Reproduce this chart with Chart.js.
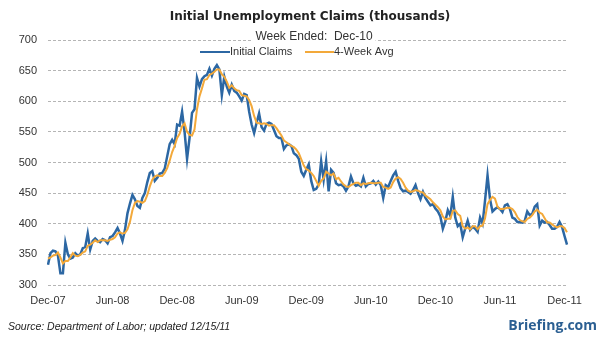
<!DOCTYPE html>
<html>
<head>
<meta charset="utf-8">
<script src="https://cdn.jsdelivr.net/npm/chart.js@4"></script>
<style>
  html, body { margin: 0; padding: 0; background: #fff; }
  #wrap { width: 600px; height: 353px; position: relative; }
</style>
</head>
<body>
<div id="wrap"><canvas id="chart"></canvas></div>
<script>
// weekly initial claims, week ended Dec 8 2007 .. Dec 10 2011 (thousands)
const initialClaims = [
  333, 352, 356, 355, 348, 319, 319, 369, 350, 343,
  345, 352, 348, 350, 360, 362, 384, 358, 372, 376,
  372, 370, 375, 373, 368, 378, 380, 386, 393, 384,
  372, 390, 417, 433, 447, 440, 429, 426, 442, 450,
  468, 483, 486, 470, 475, 482, 483, 490, 510, 530,
  537, 530, 562, 560, 583, 550, 506, 540, 581, 587,
  638, 624, 636, 641, 643, 653, 642, 653, 659, 652,
  610, 640, 624, 614, 627, 617, 614, 608, 601, 612,
  610, 583, 562, 548, 565, 580, 558, 552, 563, 565,
  563, 553, 543, 540, 540, 522, 528, 530, 527, 515,
  512, 506, 485, 478, 488, 497, 470, 455, 457, 464,
  502, 472, 502, 453, 488, 483, 466, 463, 464, 461,
  454, 461, 477, 466, 462, 464, 461, 475, 461, 465,
  466, 470, 464, 469, 463, 442, 463, 460, 470, 479,
  485, 470, 458, 453, 454, 452, 449, 455, 463, 450,
  440, 452, 442, 436, 430, 432, 425, 420, 412, 392,
  404, 422, 413, 444, 410, 396, 400, 378, 392, 405,
  390, 395, 392, 387, 410, 400, 438, 479, 440, 420,
  424, 427, 424, 419, 430, 432, 424, 410, 408, 403,
  403, 402, 405, 420, 414, 416, 428, 432, 397, 405,
  402, 403, 398, 392, 392, 395, 403, 395, 380, 366
]

const fourWeekAvg = [
  343, 345, 348, 349, 353, 345, 335, 339, 339, 345,
  352, 348, 347, 349, 353, 355, 364, 366, 369, 373,
  370, 373, 373, 373, 372, 374, 375, 378, 384, 386,
  384, 385, 391, 403, 422, 434, 437, 436, 434, 437,
  447, 461, 472, 477, 479, 478, 478, 483, 491, 503,
  517, 527, 540, 547, 559, 564, 550, 545, 544, 554,
  587, 608, 621, 635, 636, 643, 645, 648, 652, 652,
  644, 640, 632, 622, 626, 621, 618, 617, 610, 609,
  608, 602, 592, 576, 565, 564, 563, 564, 563, 560,
  561, 561, 556, 550, 544, 536, 533, 530, 527, 525,
  521, 515, 505, 495, 489, 487, 483, 478, 470, 462,
  470, 474, 485, 482, 479, 482, 473, 475, 469, 464,
  461, 460, 463, 465, 467, 467, 463, 466, 465, 466,
  467, 466, 466, 467, 467, 460, 459, 457, 459, 468,
  474, 476, 473, 467, 459, 454, 452, 453, 455, 454,
  452, 451, 446, 443, 440, 435, 431, 427, 422, 412,
  407, 408, 408, 421, 422, 416, 413, 396, 392, 394,
  391, 396, 396, 391, 396, 397, 409, 432, 439, 444,
  441, 428, 424, 424, 425, 426, 426, 424, 419, 411,
  406, 404, 403, 408, 410, 414, 420, 423, 418, 416,
  409, 402, 402, 399, 396, 394, 396, 396, 393, 386
]

const tickLabels = ['Dec-07', 'Jun-08', 'Dec-08', 'Jun-09', 'Dec-09', 'Jun-10', 'Dec-10', 'Jun-11', 'Dec-11']
const tickEvery = 26
const yMin = 300
const yMax = 700
const yStep = 50

const labels = initialClaims.map((v, i) => (i % tickEvery === 0 ? tickLabels[i / tickEvery] || '' : ''))

const BLUE = '#2c67a3'
const ORANGE = '#f3a93a'

// title, legend, source line and logo are drawn by hand
const decor = {
  id: 'decor',
  afterDraw(chart) {
    const ctx = chart.ctx
    ctx.save()
    ctx.textBaseline = 'middle'
    ctx.textAlign = 'center'
    ctx.fillStyle = '#222'
    ctx.font = 'bold 12px "DejaVu Sans"'
    ctx.fillText('Initial Unemployment Claims (thousands)', 310, 17)

    ctx.font = '12px "Liberation Sans"'
    const sub = 'Week Ended:  Dec-10'
    const sw = ctx.measureText(sub).width
    ctx.fillStyle = '#fff'
    ctx.fillRect(314 - sw / 2 - 3, 31, sw + 6, 12)
    ctx.fillStyle = '#333'
    ctx.fillText(sub, 314, 37)

    // legend
    ctx.textAlign = 'left'
    ctx.font = '11px "Liberation Sans"'
    ctx.lineWidth = 2
    ctx.strokeStyle = BLUE
    ctx.beginPath(); ctx.moveTo(200, 52); ctx.lineTo(230, 52); ctx.stroke()
    ctx.fillStyle = '#333'
    ctx.fillText('Initial Claims', 230, 52)
    ctx.strokeStyle = ORANGE
    ctx.beginPath(); ctx.moveTo(305, 52); ctx.lineTo(334, 52); ctx.stroke()
    ctx.fillText('4-Week Avg', 334, 52)

    ctx.font = 'italic 10.5px "Liberation Sans"'
    ctx.fillStyle = '#222'
    ctx.fillText('Source: Department of Labor; updated 12/15/11', 8, 327)

    ctx.font = 'bold 14px "Open Sans"'
    ctx.fillStyle = '#2b5f92'
    ctx.textAlign = 'right'
    ctx.fillText('Briefing.com', 597, 326)
    ctx.restore()
  }
}

const ctx = document.getElementById('chart').getContext('2d')
new Chart(ctx, {
  type: 'line',
  data: {
    labels: labels,
    datasets: [
      {
        label: 'Initial Claims',
        data: initialClaims,
        borderColor: BLUE,
        borderWidth: 2.5,
        pointRadius: 0,
        tension: 0,
        order: 1
      },
      {
        label: '4-Week Avg',
        data: fourWeekAvg,
        borderColor: ORANGE,
        borderWidth: 2,
        pointRadius: 0,
        tension: 0,
        order: 0
      }
    ]
  },
  options: {
    responsive: true,
    maintainAspectRatio: false,
    animation: false,
    layout: { padding: { left: 2, right: 33, top: 40, bottom: 43 } },
    plugins: {
      legend: { display: false },
      title: { display: false },
      tooltip: { enabled: false }
    },
    scales: {
      x: {
        grid: { display: false, drawTicks: false },
        border: { display: false },
        afterFit: (s) => { s.height = 25 },
        ticks: {
          autoSkip: false,
          maxRotation: 0,
          padding: 9,
          color: '#333',
          font: { family: '"Liberation Sans"', size: 11 },
          callback: (v, i) => labels[i]
        }
      },
      y: {
        min: yMin,
        max: yMax,
        afterFit: (s) => { s.width = 46 },
        grid: { color: '#b5b5b5', drawTicks: false, lineWidth: 1 },
        border: { display: false, dash: [3, 2] },
        ticks: {
          stepSize: yStep,
          padding: 11,
          color: '#333',
          font: { family: '"Liberation Sans"', size: 11 }
        }
      }
    }
  },
  plugins: [decor]
})
</script>
</body>
</html>
